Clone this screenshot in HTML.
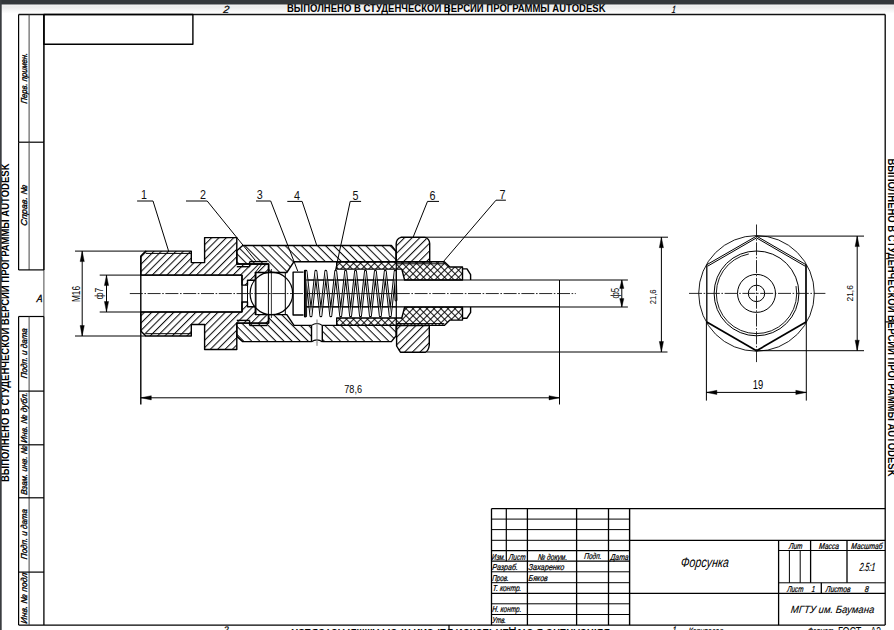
<!DOCTYPE html>
<html><head><meta charset="utf-8"><title>Форсунка</title>
<style>html,body{margin:0;padding:0;background:#fff;width:894px;height:630px;overflow:hidden}
svg{display:block}</style></head>
<body>
<svg width="894" height="630" viewBox="0 0 894 630"><defs>
<pattern id="hs" patternUnits="userSpaceOnUse" width="8" height="5.2" patternTransform="rotate(-45)">
  <line x1="-1" y1="0.55" x2="9" y2="0.55" stroke="#000" stroke-width="1.0"/></pattern>
<pattern id="hb" patternUnits="userSpaceOnUse" width="8" height="5.7" patternTransform="rotate(45)">
  <line x1="-1" y1="0.55" x2="9" y2="0.55" stroke="#000" stroke-width="1.0"/></pattern>
<pattern id="hn" patternUnits="userSpaceOnUse" width="8" height="5.4" patternTransform="rotate(-45)">
  <line x1="-1" y1="0.55" x2="9" y2="0.55" stroke="#000" stroke-width="1.0"/></pattern>
<pattern id="hx1" patternUnits="userSpaceOnUse" width="8" height="4.95" patternTransform="rotate(-45)">
  <line x1="-1" y1="0.55" x2="9" y2="0.55" stroke="#000" stroke-width="0.95"/></pattern>
<pattern id="hx2" patternUnits="userSpaceOnUse" width="8" height="4.95" patternTransform="rotate(45)">
  <line x1="-1" y1="0.55" x2="9" y2="0.55" stroke="#000" stroke-width="0.95"/></pattern>
<linearGradient id="topg" x1="0" y1="0" x2="0" y2="1">
  <stop offset="0" stop-color="#f4f4f4"/><stop offset="0.25" stop-color="#e9e9e9"/><stop offset="1" stop-color="#ffffff"/></linearGradient>
</defs>
<rect x="0" y="0" width="894" height="630" fill="#fff"/>
<rect x="0" y="4.5" width="894" height="9" fill="url(#topg)"/>
<line x1="18.6" y1="14.5" x2="885.2" y2="14.5" stroke="#111" stroke-width="1.4"/>
<line x1="885.2" y1="14.5" x2="885.2" y2="625.1" stroke="#000" stroke-width="1.3"/>
<line x1="18.6" y1="625.1" x2="885.2" y2="625.1" stroke="#000" stroke-width="1.15"/>
<line x1="43.9" y1="14.5" x2="43.9" y2="316.5" stroke="#333" stroke-width="0.9"/>
<line x1="43.9" y1="316.5" x2="43.9" y2="625.1" stroke="#000" stroke-width="1.3"/>
<line x1="18.6" y1="14.5" x2="18.6" y2="142.2" stroke="#000" stroke-width="1.2"/>
<line x1="29.1" y1="14.5" x2="29.1" y2="142.2" stroke="#444" stroke-width="1.0"/>
<line x1="18.6" y1="142.2" x2="43.9" y2="142.2" stroke="#000" stroke-width="1.2"/>
<line x1="18.6" y1="142.2" x2="18.6" y2="269.9" stroke="#000" stroke-width="1.2"/>
<line x1="29.1" y1="142.2" x2="29.1" y2="269.9" stroke="#444" stroke-width="1.0"/>
<line x1="18.6" y1="269.9" x2="43.9" y2="269.9" stroke="#000" stroke-width="1.2"/>
<line x1="43.9" y1="142.2" x2="43.9" y2="269.9" stroke="#000" stroke-width="1.3"/>
<line x1="43.9" y1="14.5" x2="43.9" y2="142.2" stroke="#000" stroke-width="1.3"/>
<line x1="18.6" y1="316.5" x2="43.9" y2="316.5" stroke="#000" stroke-width="1.2"/>
<line x1="18.6" y1="316.5" x2="18.6" y2="625.1" stroke="#000" stroke-width="1.2"/>
<line x1="29.1" y1="316.5" x2="29.1" y2="625.1" stroke="#444" stroke-width="1.0"/>
<line x1="18.6" y1="391.1" x2="43.9" y2="391.1" stroke="#000" stroke-width="1.2"/>
<line x1="18.6" y1="444.8" x2="43.9" y2="444.8" stroke="#000" stroke-width="1.2"/>
<line x1="18.6" y1="497.8" x2="43.9" y2="497.8" stroke="#000" stroke-width="1.2"/>
<line x1="18.6" y1="572.1" x2="43.9" y2="572.1" stroke="#000" stroke-width="1.2"/>
<line x1="448.7" y1="4.5" x2="448.7" y2="14.5" stroke="#000" stroke-width="1.2"/>
<line x1="449" y1="625.1" x2="449" y2="630" stroke="#000" stroke-width="1.2"/>
<line x1="885.2" y1="321.9" x2="894" y2="321.9" stroke="#000" stroke-width="1.2"/>
<path d="M43.9 14.5 L192.9 14.5 L192.9 44.3 L43.9 44.3 Z" fill="none" stroke="#000" stroke-width="1.4" stroke-linejoin="round"/>
<text x="0" y="0" style="font-family:'Liberation Sans',sans-serif;font-size:8.6px;stroke:#000;stroke-width:0.35px;font-style:italic;" text-anchor="start" textLength="50.6" lengthAdjust="spacingAndGlyphs" transform="translate(26.9 103.7) rotate(-90) skewX(-6)">Перв. примен.</text>
<text x="0" y="0" style="font-family:'Liberation Sans',sans-serif;font-size:8.6px;stroke:#000;stroke-width:0.35px;font-style:italic;" text-anchor="start" textLength="41" lengthAdjust="spacingAndGlyphs" transform="translate(26.9 226) rotate(-90) skewX(-6)">Справ. №</text>
<text x="0" y="0" style="font-family:'Liberation Sans',sans-serif;font-size:8.6px;stroke:#000;stroke-width:0.35px;font-style:italic;" text-anchor="start" textLength="50" lengthAdjust="spacingAndGlyphs" transform="translate(26.9 378.6) rotate(-90) skewX(-6)">Подп. и дата</text>
<text x="0" y="0" style="font-family:'Liberation Sans',sans-serif;font-size:8.6px;stroke:#000;stroke-width:0.35px;font-style:italic;" text-anchor="start" textLength="50.5" lengthAdjust="spacingAndGlyphs" transform="translate(26.9 442.9) rotate(-90) skewX(-6)">Инв. № дубл.</text>
<text x="0" y="0" style="font-family:'Liberation Sans',sans-serif;font-size:8.6px;stroke:#000;stroke-width:0.35px;font-style:italic;" text-anchor="start" textLength="49.3" lengthAdjust="spacingAndGlyphs" transform="translate(26.9 495) rotate(-90) skewX(-6)">Взам. инв. №</text>
<text x="0" y="0" style="font-family:'Liberation Sans',sans-serif;font-size:8.6px;stroke:#000;stroke-width:0.35px;font-style:italic;" text-anchor="start" textLength="50" lengthAdjust="spacingAndGlyphs" transform="translate(26.9 559.4) rotate(-90) skewX(-6)">Подп. и дата</text>
<text x="0" y="0" style="font-family:'Liberation Sans',sans-serif;font-size:8.6px;stroke:#000;stroke-width:0.35px;font-style:italic;" text-anchor="start" textLength="50.7" lengthAdjust="spacingAndGlyphs" transform="translate(26.9 623.7) rotate(-90) skewX(-6)">Инв. № подл</text>
<text x="0" y="0" style="font-family:'Liberation Sans',sans-serif;font-size:10.4px;stroke:#000;stroke-width:0.35px;font-style:italic;" text-anchor="start" textLength="5.8" lengthAdjust="spacingAndGlyphs" transform="translate(36.4 302.3) skewX(-6)">A</text>
<text x="287" y="12" style="font-family:'Liberation Sans',sans-serif;font-size:10.0px;font-weight:bold;" text-anchor="start" textLength="318.5" lengthAdjust="spacingAndGlyphs">ВЫПОЛНЕНО В СТУДЕНЧЕСКОЙ ВЕРСИИ ПРОГРАММЫ AUTODESK</text>
<text x="0" y="0" style="font-family:'Liberation Sans',sans-serif;font-size:10.0px;font-weight:bold;" text-anchor="start" textLength="318.5" lengthAdjust="spacingAndGlyphs" transform="translate(610 629.2) rotate(180)">ВЫПОЛНЕНО В СТУДЕНЧЕСКОЙ ВЕРСИИ ПРОГРАММЫ AUTODESK</text>
<text x="0" y="0" style="font-family:'Liberation Sans',sans-serif;font-size:10.0px;font-weight:bold;" text-anchor="start" textLength="318.5" lengthAdjust="spacingAndGlyphs" transform="translate(9.4 482) rotate(-90)">ВЫПОЛНЕНО В СТУДЕНЧЕСКОЙ ВЕРСИИ ПРОГРАММЫ AUTODESK</text>
<text x="0" y="0" style="font-family:'Liberation Sans',sans-serif;font-size:10.0px;font-weight:bold;" text-anchor="start" textLength="318" lengthAdjust="spacingAndGlyphs" transform="translate(887.8 158.5) rotate(90)">ВЫПОЛНЕНО В СТУДЕНЧЕСКОЙ ВЕРСИИ ПРОГРАММЫ AUTODESK</text>
<text x="0" y="0" style="font-family:'Liberation Sans',sans-serif;font-size:10.4px;stroke:#000;stroke-width:0.25px;font-style:italic;" text-anchor="start" textLength="6" lengthAdjust="spacingAndGlyphs" transform="translate(222.9 13) skewX(-6)">2</text>
<text x="0" y="0" style="font-family:'Liberation Sans',sans-serif;font-size:10.4px;stroke:#000;stroke-width:0.25px;font-style:italic;" text-anchor="start" textLength="4" lengthAdjust="spacingAndGlyphs" transform="translate(671.6 13) skewX(-6)">1</text>
<text x="0" y="0" style="font-family:'Liberation Sans',sans-serif;font-size:9.5px;stroke:#000;stroke-width:0.25px;font-style:italic;" text-anchor="start" textLength="5" lengthAdjust="spacingAndGlyphs" transform="translate(223.2 633) skewX(-6)">2</text>
<text x="0" y="0" style="font-family:'Liberation Sans',sans-serif;font-size:9.5px;stroke:#000;stroke-width:0.25px;font-style:italic;" text-anchor="start" textLength="3.8" lengthAdjust="spacingAndGlyphs" transform="translate(672.3 633.2) skewX(-6)">1</text>
<text x="0" y="0" style="font-family:'Liberation Sans',sans-serif;font-size:9.0px;stroke:#000;stroke-width:0.25px;font-style:italic;" text-anchor="start" textLength="34.4" lengthAdjust="spacingAndGlyphs" transform="translate(688.2 633.6) skewX(-6)">Копировал</text>
<text x="0" y="0" style="font-family:'Liberation Sans',sans-serif;font-size:9.0px;stroke:#000;stroke-width:0.25px;font-style:italic;" text-anchor="start" textLength="25.5" lengthAdjust="spacingAndGlyphs" transform="translate(807.5 633.6) skewX(-6)">Формат</text>
<text x="838" y="635.6" style="font-family:'Liberation Sans',sans-serif;font-size:12.0px;" text-anchor="start" textLength="23.4" lengthAdjust="spacingAndGlyphs">ГОСТ</text>
<text x="870.5" y="635.6" style="font-family:'Liberation Sans',sans-serif;font-size:12.0px;" text-anchor="start" textLength="10.5" lengthAdjust="spacingAndGlyphs">A3</text>
<line x1="491.5" y1="519.1" x2="629.6" y2="519.1" stroke="#000" stroke-width="1.0"/>
<line x1="491.5" y1="529.6" x2="629.6" y2="529.6" stroke="#000" stroke-width="1.0"/>
<line x1="491.5" y1="540.3" x2="629.6" y2="540.3" stroke="#000" stroke-width="1.0"/>
<line x1="491.5" y1="550.7" x2="629.6" y2="550.7" stroke="#000" stroke-width="1.3"/>
<line x1="491.5" y1="561.2" x2="629.6" y2="561.2" stroke="#000" stroke-width="1.3"/>
<line x1="491.5" y1="571.8" x2="629.6" y2="571.8" stroke="#000" stroke-width="1.0"/>
<line x1="491.5" y1="582.7" x2="629.6" y2="582.7" stroke="#000" stroke-width="1.0"/>
<line x1="491.5" y1="593.3" x2="629.6" y2="593.3" stroke="#000" stroke-width="1.3"/>
<line x1="491.5" y1="603.8" x2="629.6" y2="603.8" stroke="#000" stroke-width="1.0"/>
<line x1="491.5" y1="614.5" x2="629.6" y2="614.5" stroke="#000" stroke-width="1.0"/>
<line x1="491.5" y1="508.6" x2="885.2" y2="508.6" stroke="#000" stroke-width="1.4"/>
<line x1="491.5" y1="508.6" x2="491.5" y2="625.1" stroke="#000" stroke-width="1.3"/>
<line x1="506.3" y1="508.6" x2="506.3" y2="561.2" stroke="#000" stroke-width="1.2"/>
<line x1="527.4" y1="508.6" x2="527.4" y2="625.1" stroke="#000" stroke-width="1.3"/>
<line x1="576.6" y1="508.6" x2="576.6" y2="625.1" stroke="#000" stroke-width="1.3"/>
<line x1="608.5" y1="508.6" x2="608.5" y2="625.1" stroke="#000" stroke-width="1.3"/>
<line x1="629.6" y1="508.6" x2="629.6" y2="625.1" stroke="#000" stroke-width="1.4"/>
<line x1="629.6" y1="540.3" x2="885.2" y2="540.3" stroke="#000" stroke-width="1.3"/>
<line x1="629.6" y1="593.3" x2="885.2" y2="593.3" stroke="#000" stroke-width="1.3"/>
<line x1="778.6" y1="550.5" x2="885.2" y2="550.5" stroke="#000" stroke-width="1.0"/>
<line x1="778.6" y1="582.8" x2="885.2" y2="582.8" stroke="#000" stroke-width="1.0"/>
<line x1="778.6" y1="540.3" x2="778.6" y2="625.1" stroke="#000" stroke-width="1.3"/>
<line x1="789.4" y1="550.5" x2="789.4" y2="582.8" stroke="#000" stroke-width="1.0"/>
<line x1="800.2" y1="550.5" x2="800.2" y2="582.8" stroke="#000" stroke-width="1.0"/>
<line x1="810.6" y1="540.3" x2="810.6" y2="582.8" stroke="#000" stroke-width="1.3"/>
<line x1="847" y1="540.3" x2="847" y2="582.8" stroke="#000" stroke-width="1.3"/>
<line x1="821.3" y1="582.8" x2="821.3" y2="593.3" stroke="#000" stroke-width="1.3"/>
<text x="0" y="0" style="font-family:'Liberation Sans',sans-serif;font-size:8.6px;stroke:#000;stroke-width:0.25px;font-style:italic;" text-anchor="start" textLength="13.5" lengthAdjust="spacingAndGlyphs" transform="translate(491.6 560) skewX(-6)">Изм.</text>
<text x="0" y="0" style="font-family:'Liberation Sans',sans-serif;font-size:8.6px;stroke:#000;stroke-width:0.25px;font-style:italic;" text-anchor="start" textLength="16.7" lengthAdjust="spacingAndGlyphs" transform="translate(508.6 560) skewX(-6)">Лист</text>
<text x="0" y="0" style="font-family:'Liberation Sans',sans-serif;font-size:8.6px;stroke:#000;stroke-width:0.25px;font-style:italic;" text-anchor="start" textLength="29.2" lengthAdjust="spacingAndGlyphs" transform="translate(537.8 560) skewX(-6)">№ докум.</text>
<text x="0" y="0" style="font-family:'Liberation Sans',sans-serif;font-size:8.6px;stroke:#000;stroke-width:0.25px;font-style:italic;" text-anchor="start" textLength="17.2" lengthAdjust="spacingAndGlyphs" transform="translate(584.1 558.8) skewX(-6)">Подп.</text>
<text x="0" y="0" style="font-family:'Liberation Sans',sans-serif;font-size:8.6px;stroke:#000;stroke-width:0.25px;font-style:italic;" text-anchor="start" textLength="18" lengthAdjust="spacingAndGlyphs" transform="translate(610.3 559.6) skewX(-6)">Дата</text>
<text x="0" y="0" style="font-family:'Liberation Sans',sans-serif;font-size:8.6px;stroke:#000;stroke-width:0.25px;font-style:italic;" text-anchor="start" textLength="25.7" lengthAdjust="spacingAndGlyphs" transform="translate(492 570.3) skewX(-6)">Разраб.</text>
<text x="0" y="0" style="font-family:'Liberation Sans',sans-serif;font-size:8.6px;stroke:#000;stroke-width:0.25px;font-style:italic;" text-anchor="start" textLength="35.7" lengthAdjust="spacingAndGlyphs" transform="translate(528.3 570.3) skewX(-6)">Захаренко</text>
<text x="0" y="0" style="font-family:'Liberation Sans',sans-serif;font-size:8.6px;stroke:#000;stroke-width:0.25px;font-style:italic;" text-anchor="start" textLength="16.6" lengthAdjust="spacingAndGlyphs" transform="translate(492 580.8) skewX(-6)">Пров.</text>
<text x="0" y="0" style="font-family:'Liberation Sans',sans-serif;font-size:8.6px;stroke:#000;stroke-width:0.25px;font-style:italic;" text-anchor="start" textLength="19.1" lengthAdjust="spacingAndGlyphs" transform="translate(528.3 580.8) skewX(-6)">Бяков</text>
<text x="0" y="0" style="font-family:'Liberation Sans',sans-serif;font-size:8.6px;stroke:#000;stroke-width:0.25px;font-style:italic;" text-anchor="start" textLength="28.7" lengthAdjust="spacingAndGlyphs" transform="translate(492.5 591.3) skewX(-6)">Т. контр.</text>
<text x="0" y="0" style="font-family:'Liberation Sans',sans-serif;font-size:8.6px;stroke:#000;stroke-width:0.25px;font-style:italic;" text-anchor="start" textLength="29.2" lengthAdjust="spacingAndGlyphs" transform="translate(492 611.9) skewX(-6)">Н. контр.</text>
<text x="0" y="0" style="font-family:'Liberation Sans',sans-serif;font-size:8.6px;stroke:#000;stroke-width:0.25px;font-style:italic;" text-anchor="start" textLength="13.8" lengthAdjust="spacingAndGlyphs" transform="translate(492 622.5) skewX(-6)">Утв.</text>
<text x="0" y="0" style="font-family:'Liberation Sans',sans-serif;font-size:13.9px;stroke:#000;stroke-width:0.01px;font-style:italic;" text-anchor="start" textLength="48.1" lengthAdjust="spacingAndGlyphs" transform="translate(680.5 566.5) skewX(-6)">Форсунка</text>
<text x="0" y="0" style="font-family:'Liberation Sans',sans-serif;font-size:8.6px;stroke:#000;stroke-width:0.25px;font-style:italic;" text-anchor="start" textLength="13.5" lengthAdjust="spacingAndGlyphs" transform="translate(788.7 548.9) skewX(-6)">Лит</text>
<text x="0" y="0" style="font-family:'Liberation Sans',sans-serif;font-size:8.6px;stroke:#000;stroke-width:0.25px;font-style:italic;" text-anchor="start" textLength="20.1" lengthAdjust="spacingAndGlyphs" transform="translate(818.8 548.9) skewX(-6)">Масса</text>
<text x="0" y="0" style="font-family:'Liberation Sans',sans-serif;font-size:8.6px;stroke:#000;stroke-width:0.25px;font-style:italic;" text-anchor="start" textLength="31.2" lengthAdjust="spacingAndGlyphs" transform="translate(851.1 548.9) skewX(-6)">Масштаб</text>
<text x="0" y="0" style="font-family:'Liberation Sans',sans-serif;font-size:11.8px;stroke:#000;stroke-width:0.25px;font-style:italic;" text-anchor="start" textLength="15.5" lengthAdjust="spacingAndGlyphs" transform="translate(859.3 571.3) skewX(-6)">2.5:1</text>
<text x="0" y="0" style="font-family:'Liberation Sans',sans-serif;font-size:8.6px;stroke:#000;stroke-width:0.25px;font-style:italic;" text-anchor="start" textLength="16.3" lengthAdjust="spacingAndGlyphs" transform="translate(787 591.9) skewX(-6)">Лист</text>
<text x="0" y="0" style="font-family:'Liberation Sans',sans-serif;font-size:8.6px;stroke:#000;stroke-width:0.25px;font-style:italic;" text-anchor="start" textLength="3.3" lengthAdjust="spacingAndGlyphs" transform="translate(811.4 591.9) skewX(-6)">1</text>
<text x="0" y="0" style="font-family:'Liberation Sans',sans-serif;font-size:8.6px;stroke:#000;stroke-width:0.25px;font-style:italic;" text-anchor="start" textLength="24.7" lengthAdjust="spacingAndGlyphs" transform="translate(825.5 591.9) skewX(-6)">Листов</text>
<text x="0" y="0" style="font-family:'Liberation Sans',sans-serif;font-size:8.6px;stroke:#000;stroke-width:0.25px;font-style:italic;" text-anchor="start" textLength="4" lengthAdjust="spacingAndGlyphs" transform="translate(864.5 591.9) skewX(-6)">8</text>
<text x="0" y="0" style="font-family:'Liberation Sans',sans-serif;font-size:10.5px;stroke:#000;stroke-width:0.1px;font-style:italic;" text-anchor="start" textLength="83.4" lengthAdjust="spacingAndGlyphs" transform="translate(790.6 613.2) skewX(-6)">МГТУ им. Баумана</text>
<path d="M140.8 275.1 L140.8 256 L145.8 251.1 L191.3 251.1 L191.3 262.6 L204.6 262.6 L204.6 237.6 L236.8 237.6 L236.8 264 L268.6 264 L268.6 272.5 L255.3 272.5 L255.3 280.3 L247.5 280.3 L247.5 285.1 L242 285.1 L242 275.1 Z" fill="url(#hs)" stroke="none"/>
<path d="M140.8 312 L140.8 331.1 L145.8 336 L191.3 336 L191.3 324.5 L204.6 324.5 L204.6 349.5 L236.8 349.5 L236.8 323.1 L268.6 323.1 L268.6 314.6 L255.3 314.6 L255.3 306.8 L247.5 306.8 L247.5 302 L242 302 L242 312 Z" fill="url(#hs)" stroke="none"/>
<path d="M236.8 250.7 L242.7 245.5 L391.4 245.5 L396.2 251.5 L396.2 261.7 L294 261.7 L286.8 272.5 L268.6 272.5 L268.6 264 L236.8 264 Z" fill="url(#hb)" stroke="none"/>
<path d="M236.8 336.4 L242.7 341.6 L391.4 341.6 L396.2 335.6 L396.2 325.4 L294 325.4 L286.8 314.6 L268.6 314.6 L268.6 323.1 L236.8 323.1 Z" fill="url(#hb)" stroke="none"/>
<path d="M396.2 261.9 L396.2 243 L400.7 237.3 L425.3 237.3 L429.7 243 L429.7 261.9 Z" fill="url(#hn)" stroke="none"/>
<path d="M396.2 325.5 L396.2 346.7 L400.2 352.2 L426.4 352.2 L429.6 346.7 L429.6 325.5 Z" fill="url(#hn)" stroke="none"/>
<path d="M336.7 261.7 L444.3 261.7 L449.9 267 L462.5 267 L462.5 280 L404.6 280 L401.8 269.1 L336.7 269.1 Z" fill="url(#hx1)" stroke="none"/>
<path d="M336.7 261.7 L444.3 261.7 L449.9 267 L462.5 267 L462.5 280 L404.6 280 L401.8 269.1 L336.7 269.1 Z" fill="url(#hx2)" stroke="none"/>
<path d="M336.7 325.4 L444.3 325.4 L449.9 320.1 L462.5 320.1 L462.5 307.1 L404.6 307.1 L401.8 318 L336.7 318 Z" fill="url(#hx1)" stroke="none"/>
<path d="M336.7 325.4 L444.3 325.4 L449.9 320.1 L462.5 320.1 L462.5 307.1 L404.6 307.1 L401.8 318 L336.7 318 Z" fill="url(#hx2)" stroke="none"/>
<path d="M140.8 275.1 L140.8 256 L145.8 251.1 L191.3 251.1 L191.3 262.6 L204.6 262.6 L204.6 237.6 L236.8 237.6 L236.8 264 L268.6 264 L268.6 272.5 L255.3 272.5 L255.3 280.3 L247.5 280.3 L247.5 285.1 L242 285.1 L242 275.1 Z" fill="none" stroke="#000" stroke-width="1.4" stroke-linejoin="round"/>
<path d="M140.8 312 L140.8 331.1 L145.8 336 L191.3 336 L191.3 324.5 L204.6 324.5 L204.6 349.5 L236.8 349.5 L236.8 323.1 L268.6 323.1 L268.6 314.6 L255.3 314.6 L255.3 306.8 L247.5 306.8 L247.5 302 L242 302 L242 312 Z" fill="none" stroke="#000" stroke-width="1.4" stroke-linejoin="round"/>
<path d="M236.8 250.7 L242.7 245.5 L391.4 245.5 L396.2 251.5 L396.2 261.7 L294 261.7 L286.8 272.5 L268.6 272.5 L268.6 264 L236.8 264 Z" fill="none" stroke="#000" stroke-width="1.4" stroke-linejoin="round"/>
<path d="M236.8 336.4 L242.7 341.6 L391.4 341.6 L396.2 335.6 L396.2 325.4 L294 325.4 L286.8 314.6 L268.6 314.6 L268.6 323.1 L236.8 323.1 Z" fill="none" stroke="#000" stroke-width="1.4" stroke-linejoin="round"/>
<path d="M336.7 261.7 L444.3 261.7 L449.9 267 L462.5 267 L462.5 280 L404.6 280 L401.8 269.1 L336.7 269.1 Z" fill="none" stroke="#000" stroke-width="1.4" stroke-linejoin="round"/>
<path d="M336.7 325.4 L444.3 325.4 L449.9 320.1 L462.5 320.1 L462.5 307.1 L404.6 307.1 L401.8 318 L336.7 318 Z" fill="none" stroke="#000" stroke-width="1.4" stroke-linejoin="round"/>
<path d="M396.2 261.9 L396.2 243.6 Q396.4 238.6 400.9 237.3 L425.1 237.3 Q429.5 238.6 429.7 243.6 L429.7 261.9 Z" fill="none" stroke="#000" stroke-width="1.4" stroke-linejoin="round"/>
<path d="M396.6 325.5 L396.6 346.0 L400.4 352.2 L425.6 352.2 Q428.6 350.6 429.3 345.0 L429.3 325.5 Z" fill="none" stroke="#000" stroke-width="1.4" stroke-linejoin="round"/>
<line x1="145.8" y1="253.4" x2="191.3" y2="253.4" stroke="#000" stroke-width="1.0"/>
<line x1="145.8" y1="333.7" x2="191.3" y2="333.7" stroke="#000" stroke-width="1.0"/>
<line x1="140.8" y1="275.1" x2="242" y2="275.1" stroke="#000" stroke-width="1.15"/>
<line x1="140.8" y1="312" x2="242" y2="312" stroke="#000" stroke-width="1.15"/>
<line x1="140.8" y1="256" x2="140.8" y2="404.4" stroke="#000" stroke-width="1.4"/>
<line x1="396.2" y1="263.8" x2="444.3" y2="263.8" stroke="#000" stroke-width="1.0"/>
<line x1="396.2" y1="323.6" x2="444.3" y2="323.6" stroke="#000" stroke-width="1.0"/>
<circle cx="271.4" cy="293.4" r="21.3" fill="none" stroke="#000" stroke-width="1.2"/>
<line x1="256" y1="272.6" x2="256" y2="314.6" stroke="#000" stroke-width="1.0"/>
<line x1="268.4" y1="265.8" x2="268.4" y2="321.3" stroke="#000" stroke-width="1.0"/>
<line x1="271.4" y1="269" x2="271.4" y2="318" stroke="#000" stroke-width="0.8"/>
<line x1="285.3" y1="272.6" x2="285.3" y2="314.6" stroke="#000" stroke-width="1.0"/>
<line x1="255.3" y1="280.3" x2="255.3" y2="306.8" stroke="#000" stroke-width="1.0"/>
<line x1="247.5" y1="285.1" x2="247.5" y2="302" stroke="#000" stroke-width="1.0"/>
<line x1="242" y1="275.1" x2="242" y2="312" stroke="#000" stroke-width="1.4"/>
<line x1="236.8" y1="266.7" x2="249.6" y2="266.7" stroke="#000" stroke-width="1.4"/>
<line x1="249.6" y1="266.7" x2="249.6" y2="261.6" stroke="#000" stroke-width="1.4"/>
<line x1="249.6" y1="261.6" x2="267.4" y2="261.6" stroke="#000" stroke-width="1.4"/>
<line x1="236.8" y1="320.4" x2="249.6" y2="320.4" stroke="#000" stroke-width="1.4"/>
<line x1="249.6" y1="320.4" x2="249.6" y2="325.5" stroke="#000" stroke-width="1.4"/>
<line x1="249.6" y1="325.5" x2="267.4" y2="325.5" stroke="#000" stroke-width="1.4"/>
<line x1="255.3" y1="272.5" x2="262" y2="264" stroke="#000" stroke-width="1.0"/>
<path d="M303.5 272.1 L293.1 272.1 L293.1 315 L303.5 315" fill="none" stroke="#000" stroke-width="1.4" stroke-linejoin="round"/>
<line x1="306" y1="280" x2="559.5" y2="280" stroke="#000" stroke-width="1.15"/>
<line x1="306" y1="306.8" x2="559.5" y2="306.8" stroke="#000" stroke-width="1.15"/>
<line x1="559.5" y1="280" x2="559.5" y2="404.5" stroke="#000" stroke-width="1.0"/>
<path d="M462.5 268.9 L467 268.9 L470.6 274.7 L470.6 280" fill="none" stroke="#000" stroke-width="1.4" stroke-linejoin="round"/>
<path d="M462.5 318.2 L467 318.2 L470.6 312.4 L470.6 307" fill="none" stroke="#000" stroke-width="1.4" stroke-linejoin="round"/>
<path d="M305.6 315.9 L306 271.3 L310.96 315.9 L315.91 271.3 L320.87 315.9 L325.82 271.3 L330.78 315.9 L335.73 271.3 L340.69 315.9 L345.64 271.3 L350.6 315.9 L355.55 271.3 L360.5 315.9 L365.46 271.3 L370.42 315.9 L375.37 271.3 L380.32 315.9 L385.28 271.3 L390.24 315.9 L395.19 271.3 L396 300" fill="none" stroke="#000" stroke-width="2.9" stroke-linejoin="round" stroke-linecap="round"/>
<path d="M305.6 315.9 L306 271.3 L310.96 315.9 L315.91 271.3 L320.87 315.9 L325.82 271.3 L330.78 315.9 L335.73 271.3 L340.69 315.9 L345.64 271.3 L350.6 315.9 L355.55 271.3 L360.5 315.9 L365.46 271.3 L370.42 315.9 L375.37 271.3 L380.32 315.9 L385.28 271.3 L390.24 315.9 L395.19 271.3 L396 300" fill="none" stroke="#fff" stroke-width="0.9" stroke-linejoin="round" stroke-linecap="round"/>
<line x1="304.9" y1="269.9" x2="304.9" y2="317.3" stroke="#000" stroke-width="1.9"/>
<line x1="306" y1="280" x2="396" y2="280" stroke="#000" stroke-width="1.0"/>
<line x1="306" y1="306.8" x2="396" y2="306.8" stroke="#000" stroke-width="1.0"/>
<line x1="306" y1="293.55" x2="396" y2="293.55" stroke="#222" stroke-width="0.8"/>
<line x1="396.3" y1="251.5" x2="396.3" y2="335.6" stroke="#000" stroke-width="1.2"/>
<path d="M311.5 324 L322.3 324 L322.3 342.8 L311.5 342.8 Z" fill="#fff" stroke="none"/>
<line x1="311.5" y1="325.3" x2="311.5" y2="342" stroke="#000" stroke-width="1.4"/>
<line x1="322.3" y1="325.3" x2="322.3" y2="342" stroke="#000" stroke-width="1.4"/>
<path d="M311.5 325.4 Q317 321.6 322.3 325.4 M311.5 341.8 Q317 338.0 322.3 341.8" fill="none" stroke="#000" stroke-width="1.1"/>
<line x1="317" y1="319.5" x2="317" y2="345.8" stroke="#777" stroke-width="1.0"/>
<line x1="129.8" y1="293.55" x2="575.8" y2="293.55" stroke="#111" stroke-width="0.9" stroke-dasharray="13 1.6 1.6 1.6"/>
<line x1="137.1" y1="201" x2="153" y2="201" stroke="#000" stroke-width="1.0"/>
<line x1="153" y1="201" x2="168.6" y2="251" stroke="#000" stroke-width="1.0"/>
<text x="144" y="199.4" style="font-family:'Liberation Sans',sans-serif;font-size:12.4px;" text-anchor="middle" textLength="6" lengthAdjust="spacingAndGlyphs" fill="#111">1</text>
<line x1="186" y1="201" x2="207.2" y2="201" stroke="#000" stroke-width="1.0"/>
<line x1="207.2" y1="201" x2="255.6" y2="260.7" stroke="#000" stroke-width="1.0"/>
<text x="203.1" y="199.4" style="font-family:'Liberation Sans',sans-serif;font-size:12.4px;" text-anchor="middle" textLength="6" lengthAdjust="spacingAndGlyphs" fill="#111">2</text>
<line x1="256" y1="201" x2="270.7" y2="201" stroke="#000" stroke-width="1.0"/>
<line x1="270.7" y1="201" x2="297.8" y2="271.3" stroke="#000" stroke-width="1.0"/>
<text x="259.8" y="199.4" style="font-family:'Liberation Sans',sans-serif;font-size:12.4px;" text-anchor="middle" textLength="6" lengthAdjust="spacingAndGlyphs" fill="#111">3</text>
<line x1="287.3" y1="201.4" x2="302.1" y2="201.4" stroke="#000" stroke-width="1.0"/>
<line x1="302.1" y1="201.4" x2="316.9" y2="245.8" stroke="#000" stroke-width="1.0"/>
<text x="297" y="199.6" style="font-family:'Liberation Sans',sans-serif;font-size:12.4px;" text-anchor="middle" textLength="6" lengthAdjust="spacingAndGlyphs" fill="#111">4</text>
<line x1="350.2" y1="201.4" x2="361.1" y2="201.4" stroke="#000" stroke-width="1.0"/>
<line x1="350.2" y1="201.4" x2="335.4" y2="270.7" stroke="#000" stroke-width="1.0"/>
<text x="355.5" y="199.6" style="font-family:'Liberation Sans',sans-serif;font-size:12.4px;" text-anchor="middle" textLength="6" lengthAdjust="spacingAndGlyphs" fill="#111">5</text>
<line x1="427.5" y1="201.4" x2="439" y2="201.4" stroke="#000" stroke-width="1.0"/>
<line x1="427.5" y1="201.4" x2="413.2" y2="237" stroke="#000" stroke-width="1.0"/>
<text x="432.4" y="199.6" style="font-family:'Liberation Sans',sans-serif;font-size:12.4px;" text-anchor="middle" textLength="6" lengthAdjust="spacingAndGlyphs" fill="#111">6</text>
<line x1="496" y1="200.2" x2="505.9" y2="200.2" stroke="#000" stroke-width="1.0"/>
<line x1="496" y1="200.2" x2="443.4" y2="261.6" stroke="#000" stroke-width="1.0"/>
<text x="502.5" y="198.6" style="font-family:'Liberation Sans',sans-serif;font-size:12.4px;" text-anchor="middle" textLength="6" lengthAdjust="spacingAndGlyphs" fill="#111">7</text>
<line x1="75" y1="251.1" x2="145.8" y2="251.1" stroke="#000" stroke-width="1.0"/>
<line x1="75" y1="336" x2="145.8" y2="336" stroke="#000" stroke-width="1.0"/>
<line x1="82.2" y1="251.1" x2="82.2" y2="336" stroke="#000" stroke-width="1.0"/>
<path d="M82.2 251.1 L84.3 261.6 L80.1 261.6 Z" fill="#000" stroke="#000" stroke-width="0.4"/>
<path d="M82.2 336 L80.1 325.5 L84.3 325.5 Z" fill="#000" stroke="#000" stroke-width="0.4"/>
<text x="0" y="0" style="font-family:'Liberation Sans',sans-serif;font-size:10.6px;" text-anchor="start" textLength="16" lengthAdjust="spacingAndGlyphs" transform="translate(79.6 302) rotate(-90)">M16</text>
<line x1="99.7" y1="275.1" x2="140.8" y2="275.1" stroke="#000" stroke-width="1.0"/>
<line x1="99.7" y1="312" x2="140.8" y2="312" stroke="#000" stroke-width="1.0"/>
<line x1="106.5" y1="275.1" x2="106.5" y2="312" stroke="#000" stroke-width="1.0"/>
<path d="M106.5 275.1 L108.6 285.6 L104.4 285.6 Z" fill="#000" stroke="#000" stroke-width="0.4"/>
<path d="M106.5 312 L104.4 301.5 L108.6 301.5 Z" fill="#000" stroke="#000" stroke-width="0.4"/>
<text x="0" y="0" style="font-family:'Liberation Sans',sans-serif;font-size:10.0px;" text-anchor="start" textLength="11.4" lengthAdjust="spacingAndGlyphs" transform="translate(102.8 299.2) rotate(-90)">ф7</text>
<line x1="140.8" y1="397.8" x2="559.5" y2="397.8" stroke="#000" stroke-width="1.0"/>
<path d="M140.8 397.8 L151.3 395.7 L151.3 399.9 Z" fill="#000" stroke="#000" stroke-width="0.4"/>
<path d="M559.5 397.8 L549 399.9 L549 395.7 Z" fill="#000" stroke="#000" stroke-width="0.4"/>
<text x="344.3" y="393.2" style="font-family:'Liberation Sans',sans-serif;font-size:10.6px;" text-anchor="start" textLength="17.7" lengthAdjust="spacingAndGlyphs">78,6</text>
<line x1="559.5" y1="280" x2="627.9" y2="280" stroke="#000" stroke-width="1.0"/>
<line x1="559.5" y1="307" x2="627.9" y2="307" stroke="#000" stroke-width="1.0"/>
<line x1="621.8" y1="280" x2="621.8" y2="307" stroke="#000" stroke-width="1.0"/>
<path d="M621.8 280 L623.9 288.4 L619.7 288.4 Z" fill="#000" stroke="#000" stroke-width="0.4"/>
<path d="M621.8 307 L619.7 298.6 L623.9 298.6 Z" fill="#000" stroke="#000" stroke-width="0.4"/>
<text x="0" y="0" style="font-family:'Liberation Sans',sans-serif;font-size:10.0px;" text-anchor="start" textLength="10.7" lengthAdjust="spacingAndGlyphs" transform="translate(619 298.6) rotate(-90)">ф5</text>
<line x1="425.3" y1="237.2" x2="668" y2="237.2" stroke="#000" stroke-width="1.0"/>
<line x1="426.4" y1="352" x2="667.5" y2="352" stroke="#000" stroke-width="1.0"/>
<line x1="661.4" y1="237.2" x2="661.4" y2="352" stroke="#000" stroke-width="1.0"/>
<path d="M661.4 237.2 L663.5 247.7 L659.3 247.7 Z" fill="#000" stroke="#000" stroke-width="0.4"/>
<path d="M661.4 352 L659.3 341.5 L663.5 341.5 Z" fill="#000" stroke="#000" stroke-width="0.4"/>
<text x="0" y="0" style="font-family:'Liberation Sans',sans-serif;font-size:9.8px;" text-anchor="start" textLength="14.8" lengthAdjust="spacingAndGlyphs" transform="translate(656.2 304.2) rotate(-90)">21,6</text>
<circle cx="756.5" cy="293.4" r="57.8" fill="none" stroke="#000" stroke-width="0.9"/>
<line x1="706.8" y1="264.7" x2="756.5" y2="236.1" stroke="#000" stroke-width="1.0"/>
<line x1="756.5" y1="236.1" x2="806" y2="264.7" stroke="#000" stroke-width="1.0"/>
<line x1="707.6" y1="266.2" x2="756.5" y2="237.9" stroke="#000" stroke-width="1.0"/>
<line x1="756.5" y1="237.9" x2="805.2" y2="266.2" stroke="#000" stroke-width="1.0"/>
<line x1="706.8" y1="264.7" x2="706.8" y2="322" stroke="#000" stroke-width="1.3"/>
<line x1="806" y1="264.7" x2="806" y2="322" stroke="#000" stroke-width="1.7"/>
<line x1="706.8" y1="322" x2="756.5" y2="350.8" stroke="#000" stroke-width="1.7"/>
<line x1="756.5" y1="350.8" x2="806" y2="322" stroke="#000" stroke-width="1.7"/>
<circle cx="756.5" cy="293.4" r="42.4" fill="none" stroke="#000" stroke-width="1.0"/>
<path d="M748.83 253.94 A40.2 40.2 0 1 0 796.03 286.07" fill="none" stroke="#000" stroke-width="0.9"/>
<circle cx="756.5" cy="293.4" r="19.0" fill="none" stroke="#000" stroke-width="1.0"/>
<circle cx="756.5" cy="293.4" r="8.2" fill="none" stroke="#000" stroke-width="1.0"/>
<line x1="689" y1="293.4" x2="825.4" y2="293.4" stroke="#111" stroke-width="0.9" stroke-dasharray="13 1.6 1.6 1.6"/>
<line x1="756.5" y1="224.5" x2="756.5" y2="363.4" stroke="#111" stroke-width="0.9" stroke-dasharray="13 1.6 1.6 1.6"/>
<line x1="756.5" y1="236.1" x2="864" y2="236.1" stroke="#000" stroke-width="1.0"/>
<line x1="756.5" y1="350.7" x2="864" y2="350.7" stroke="#000" stroke-width="1.0"/>
<line x1="857.2" y1="236.1" x2="857.2" y2="350.7" stroke="#000" stroke-width="1.0"/>
<path d="M857.2 236.1 L859.3 246.6 L855.1 246.6 Z" fill="#000" stroke="#000" stroke-width="0.4"/>
<path d="M857.2 350.7 L855.1 340.2 L859.3 340.2 Z" fill="#000" stroke="#000" stroke-width="0.4"/>
<text x="0" y="0" style="font-family:'Liberation Sans',sans-serif;font-size:9.9px;" text-anchor="start" textLength="16.3" lengthAdjust="spacingAndGlyphs" transform="translate(852.8 301.5) rotate(-90)">21,6</text>
<line x1="706.4" y1="322" x2="706.4" y2="400.6" stroke="#000" stroke-width="1.0"/>
<line x1="806.3" y1="322" x2="806.3" y2="400.6" stroke="#000" stroke-width="1.0"/>
<line x1="706.4" y1="392.4" x2="806.3" y2="392.4" stroke="#000" stroke-width="1.0"/>
<path d="M706.4 392.4 L716.9 390.3 L716.9 394.5 Z" fill="#000" stroke="#000" stroke-width="0.4"/>
<path d="M806.3 392.4 L795.8 394.5 L795.8 390.3 Z" fill="#000" stroke="#000" stroke-width="0.4"/>
<text x="752.8" y="388.9" style="font-family:'Liberation Sans',sans-serif;font-size:13.0px;" text-anchor="start" textLength="10.4" lengthAdjust="spacingAndGlyphs">19</text>
<rect x="0" y="0" width="894" height="4.5" fill="#33373a"/>
<rect x="0" y="0" width="1.7" height="630" fill="#3a3d40"/>
</svg>
</body></html>
